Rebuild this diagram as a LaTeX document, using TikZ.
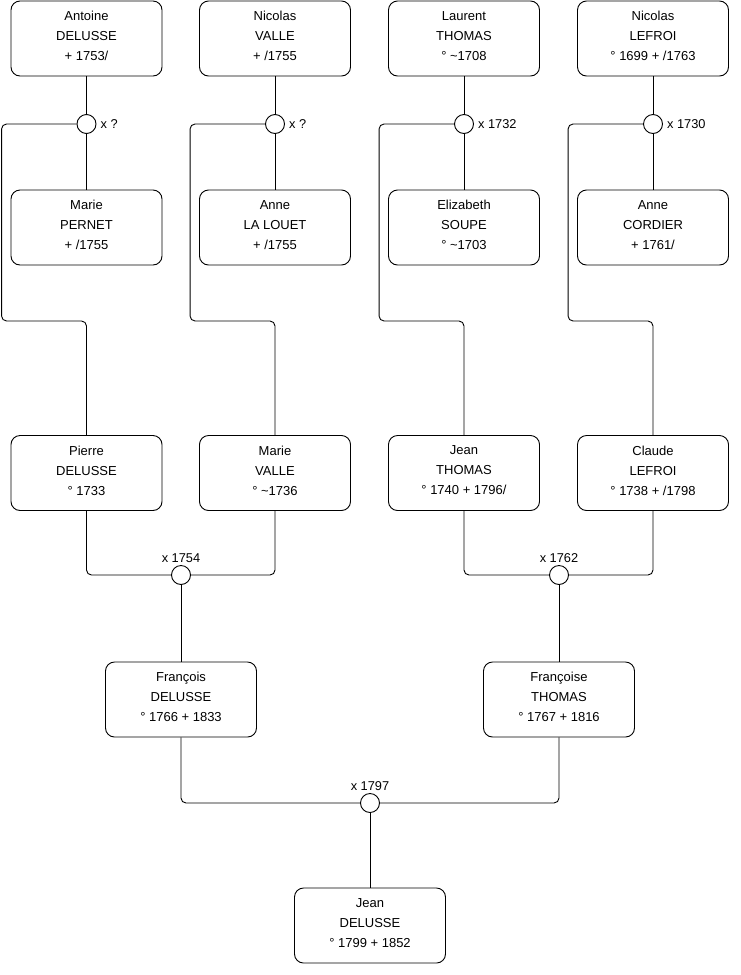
\documentclass[tikz,border=0pt]{standalone}
\usepackage{fontspec}
\setmainfont{Liberation Sans}
\usetikzlibrary{positioning}

\begin{document}
\begin{tikzpicture}[
    x=1pt, y=-1pt,
    person/.style={draw, line width=0.9pt, rounded corners=9pt, fill=white, align=center,
                   minimum width=151, minimum height=75, inner sep=2pt, text depth=5pt,
                   font=\fontsize{13}{20}\selectfont},
    wedding/.style={draw, line width=0.9pt, circle, fill=white, minimum size=19, inner sep=0pt},
    datelbl/.style={font=\fontsize{12.8}{15}\selectfont, inner sep=1pt},
    link/.style={line width=0.9pt, rounded corners=5pt}
]
  \useasboundingbox (0,0) rectangle (740,975);

  % Ancestors, top row
  \node[person] (antoine) at (86.5,38.5) {Antoine\\DELUSSE\\+ 1753/};
  \node[person] (nicolasV) at (275,38.5) {Nicolas\\VALLE\\+ /1755};
  \node[person] (laurent) at (464,38.5) {Laurent\\THOMAS\\° \textasciitilde1708};
  \node[person] (nicolasL) at (653,38.5) {Nicolas\\LEFROI\\° 1699 + /1763};

  % Spouses
  \node[person] (marieP) at (86.5,227.5) {Marie\\PERNET\\+ /1755};
  \node[person] (anneL) at (275,227.5) {Anne\\LA LOUET\\+ /1755};
  \node[person] (elizabeth) at (464,227.5) {Elizabeth\\SOUPE\\° \textasciitilde1703};
  \node[person] (anneC) at (653,227.5) {Anne\\CORDIER\\+ 1761/};

  % Marriages, top row
  \node[wedding] (mA) at (86.5,124) {};
  \node[wedding] (mB) at (275,124) {};
  \node[wedding] (mC) at (464,124) {};
  \node[wedding] (mD) at (653,124) {};
  \node[datelbl, right=3pt of mA] (lA) {x ?};
  \node[datelbl, right=3pt of mB] (lB) {x ?};
  \node[datelbl, right=3pt of mC] (lC) {x 1732};
  \node[datelbl, right=3pt of mD] (lD) {x 1730};

  % Children
  \node[person] (pierre) at (86.5,473) {Pierre\\DELUSSE\\° 1733};
  \node[person] (marieV) at (275,473) {Marie\\VALLE\\° \textasciitilde1736};
  \node[person] (jeanT) at (464,473) {Jean\\THOMAS\\° 1740 + 1796/};
  \node[person] (claude) at (653,473) {Claude\\LEFROI\\° 1738 + /1798};

  \node[wedding] (mE) at (181,575) {};
  \node[wedding] (mF) at (559,575) {};
  \node[datelbl, above=1pt of mE] (lE) {x 1754};
  \node[datelbl, above=1pt of mF] (lF) {x 1762};

  \node[person] (francois) at (181,699.5) {François\\DELUSSE\\° 1766 + 1833};
  \node[person] (francoise) at (559,699.5) {Françoise\\THOMAS\\° 1767 + 1816};

  \node[wedding] (mG) at (370,803) {};
  \node[datelbl, above=1pt of mG] (lG) {x 1797};

  \node[person] (jeanD) at (370,925.5) {Jean\\DELUSSE\\° 1799 + 1852};

  % Lines
  \foreach \up/\m/\down in {antoine/mA/marieP, nicolasV/mB/anneL, laurent/mC/elizabeth, nicolasL/mD/anneC}{
    \draw[link] (\up) -- (\m);
    \draw[link] (\m) -- (\down);
  }
  \foreach \m/\kid in {mA/pierre, mB/marieV, mC/jeanT, mD/claude}{
    \draw[link] (\m.west) -| ++(-75,197) -| (\kid.north);
  }
  \draw[link] (pierre.south) |- (mE.west);
  \draw[link] (marieV.south) |- (mE.east);
  \draw[link] (jeanT.south) |- (mF.west);
  \draw[link] (claude.south) |- (mF.east);
  \draw[link] (mE) -- (francois);
  \draw[link] (mF) -- (francoise);
  \draw[link] (francois.south) |- (mG.west);
  \draw[link] (francoise.south) |- (mG.east);
  \draw[link] (mG) -- (jeanD);
\end{tikzpicture}
\end{document}
